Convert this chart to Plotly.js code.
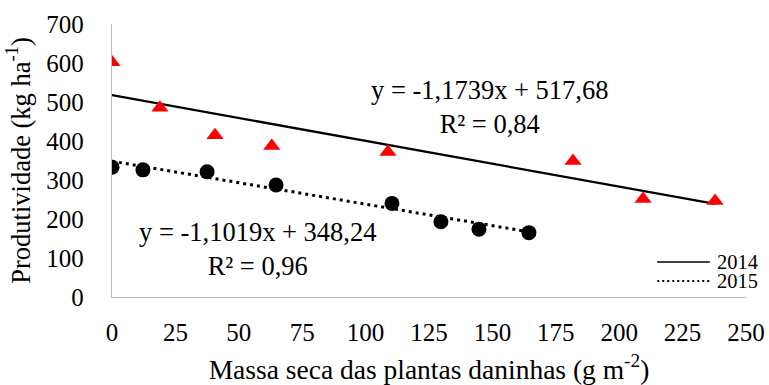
<!DOCTYPE html>
<html>
<head>
<meta charset="utf-8">
<script src="https://cdn.plot.ly/plotly-3.0.1.min.js"></script>
<style>
  html, body { margin: 0; padding: 0; background: #fff; }
  #chart { width: 769px; height: 385px; }
</style>
</head>
<body>
<div id="chart"></div>
<script>
// Weed dry mass (g m-2) vs. yield (kg ha-1), two seasons
const x2014 = [0, 18.9, 40.6, 63, 108.8, 181.8, 209.4, 237.8];
const y2014 = [602, 485, 415, 387, 372, 349, 251, 246];
const x2015 = [0, 12.2, 37.5, 64.7, 110.4, 129.7, 144.7, 164.4];
const y2015 = [333, 326, 321, 287, 240, 193, 174, 165];

// Fitted linear models (slope, intercept, R²)
const fit2014 = { slope: -1.1739, intercept: 517.68, r2: '0,84' };
const fit2015 = { slope: -1.1019, intercept: 348.24, r2: '0,96' };

const seriesNames = ['2014', '2015'];
const xTicks = [0, 25, 50, 75, 100, 125, 150, 175, 200, 225, 250];
const yTicks = [0, 100, 200, 300, 400, 500, 600, 700];

const serif = 'Liberation Serif, Times New Roman, serif';

function fitLine(xs, fit) {
  const xa = [Math.min(...xs), Math.max(...xs)];
  return { x: xa, y: xa.map(v => fit.slope * v + fit.intercept) };
}

function fmt(v, d) { return Math.abs(v).toFixed(d).replace('.', ','); }
function eqText(fit) {
  return 'y = -' + fmt(fit.slope, 4) + 'x + ' + fmt(fit.intercept, 2) +
         '<br>R² = ' + fit.r2;
}

const l14 = fitLine(x2014, fit2014);
const l15 = fitLine(x2015, fit2015);

const solid = { color: '#000', width: 2.3 };
const dotted = { color: '#000', width: 3, dash: '3px,4px' };

const traces = [
  { x: l14.x, y: l14.y, mode: 'lines', name: seriesNames[0], line: solid },
  { x: l15.x, y: l15.y, mode: 'lines', name: seriesNames[1], line: dotted },
  { x: x2014, y: y2014, mode: 'markers',
    marker: { symbol: 'triangle-up', size: 15, color: '#ff0000' } },
  { x: x2015, y: y2015, mode: 'markers',
    marker: { symbol: 'circle', size: 15, color: '#000' } }
];

// compact key in the lower right corner: two line samples and one tight label block
const keyRows = [
  { y: 0.128, line: { color: '#000', width: 1.4 } },
  { y: 0.059, line: { color: '#000', width: 2, dash: '2px,3px' } }
];
const keyShapes = keyRows.map(r => ({
  type: 'line', xref: 'paper', yref: 'paper',
  x0: 0.86, x1: 0.943, y0: r.y, y1: r.y, line: r.line
}));
// line spacing follows the block's base size (14.6 → 19px rows), glyphs drawn at 20.5px
const keyLabel = {
  xref: 'paper', yref: 'paper', x: 0.951, y: 0.0935, xanchor: 'left', yanchor: 'middle',
  align: 'left', showarrow: false,
  text: seriesNames.map(n => '<span style="font-size:20.5px">' + n + '</span>').join('<br>'),
  font: { family: serif, size: 14.6, color: '#000' }
};

const layout = {
  width: 769, height: 385,
  margin: { l: 112, r: 23, t: 24, b: 88 },
  paper_bgcolor: '#fff', plot_bgcolor: '#fff',
  font: { family: serif, color: '#000', size: 24 },
  showlegend: false,
  xaxis: {
    range: [0, 250], tickvals: xTicks, ticktext: xTicks.map(String),
    showgrid: false, zeroline: false, showline: true,
    linecolor: '#bfbfbf', linewidth: 1.3,
    ticks: 'outside', ticklen: 13, tickcolor: 'rgba(0,0,0,0)',
    tickfont: { family: serif, size: 25 },
    title: { text: 'Massa seca das plantas daninhas (g m<sup>-2</sup>)',
             font: { family: serif, size: 27.5 }, standoff: 16 }
  },
  yaxis: {
    range: [0, 700], tickvals: yTicks, ticktext: yTicks.map(String),
    showgrid: false, zeroline: false, showline: true,
    linecolor: '#bfbfbf', linewidth: 1.3,
    ticks: 'outside', ticklen: 22, tickcolor: 'rgba(0,0,0,0)',
    tickfont: { family: serif, size: 25 },
    title: { text: 'Produtividade (kg ha<sup>-1</sup>)',
             font: { family: serif, size: 26.5 }, standoff: 8 }
  },
  shapes: keyShapes,
  annotations: [
    { x: 148.7, y: 486, xref: 'x', yref: 'y', text: eqText(fit2014),
      showarrow: false, align: 'center', font: { family: serif, size: 26.5 } },
    { x: 57.2, y: 124, xref: 'x', yref: 'y', text: eqText(fit2015),
      showarrow: false, align: 'center', font: { family: serif, size: 26.5 } },
    keyLabel
  ]
};

Plotly.newPlot('chart', traces, layout, { displayModeBar: false, staticPlot: true });
</script>
</body>
</html>
